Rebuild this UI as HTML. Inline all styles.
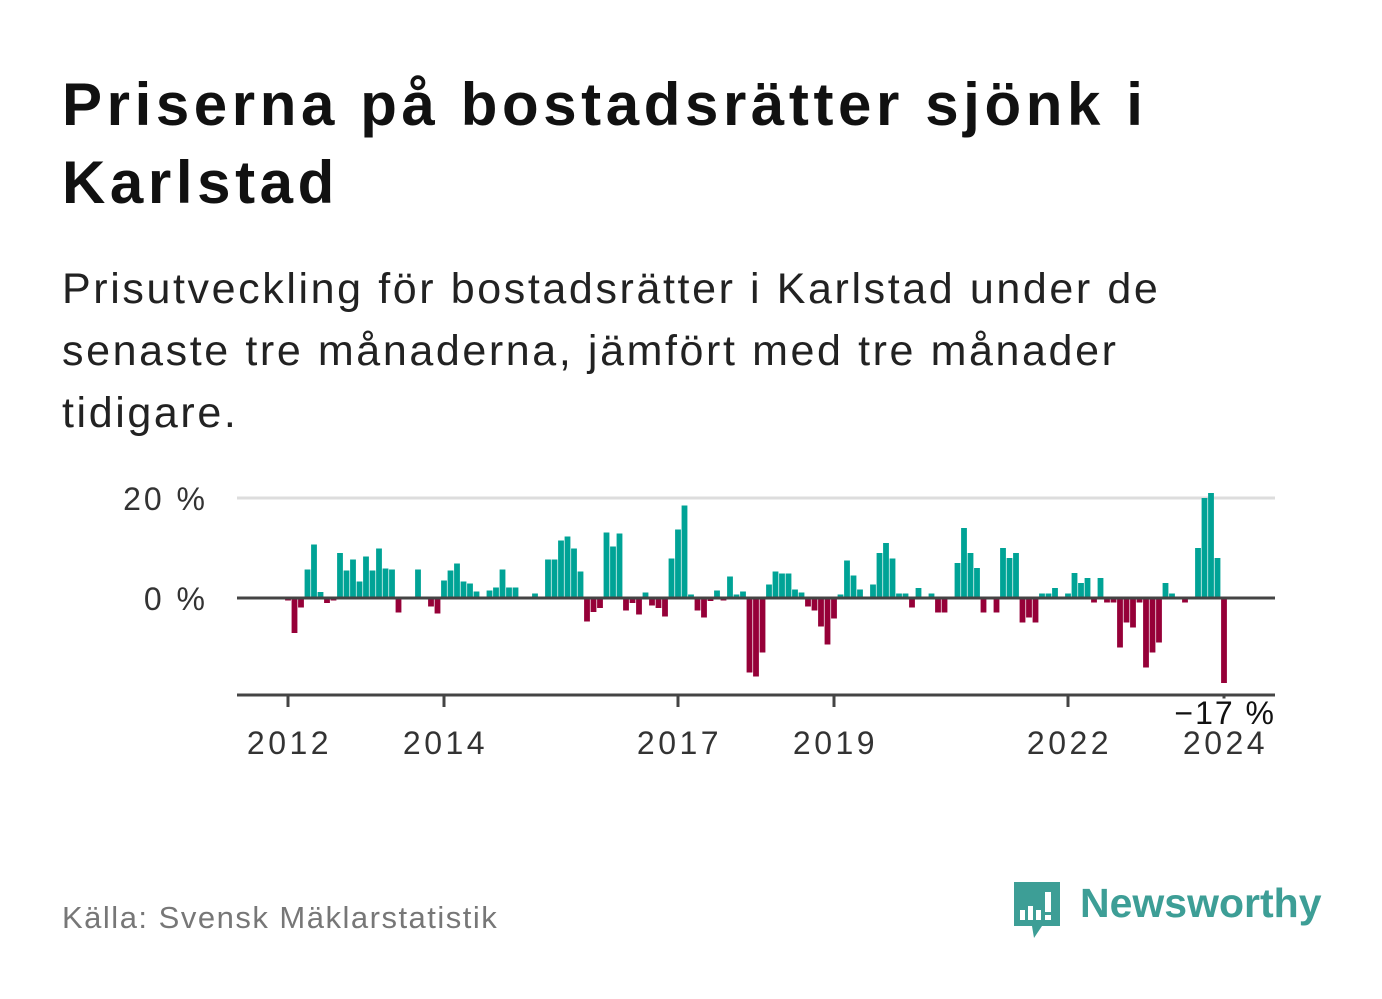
<!DOCTYPE html>
<html><head><meta charset="utf-8"><style>
body{margin:0;width:1382px;height:999px;background:#fff;font-family:"Liberation Sans",sans-serif;overflow:hidden;position:relative}
.t{position:absolute;left:62px;margin:0}
</style></head><body>
<h1 class="t" style="top:66px;font-size:60px;line-height:78px;font-weight:bold;color:#111;letter-spacing:4.6px">Priserna på bostadsrätter sjönk i<br>Karlstad</h1>
<p class="t" style="top:258px;font-size:43px;line-height:62px;color:#222;letter-spacing:2.6px">Prisutveckling för bostadsrätter i Karlstad under de<br>senaste tre månaderna, jämfört med tre månader<br>tidigare.</p>
<svg id="chart" width="1382" height="800" style="position:absolute;left:0;top:0" font-family="Liberation Sans, sans-serif"></svg>
<div style="position:absolute;left:62px;top:900px;font-size:31px;color:#777;letter-spacing:1.5px">Källa: Svensk Mäklarstatistik</div>
<div style="position:absolute;left:1012px;top:880px;width:310px;height:60px">
<svg width="50" height="60" style="position:absolute;left:0;top:0"><path d="M2 2H48V46H30L22 58L20 46H2Z" fill="#3d9e96"/><rect x="8" y="30" width="5" height="10" fill="#fff"/><rect x="16" y="26" width="5" height="14" fill="#fff"/><rect x="24" y="30" width="5" height="10" fill="#fff"/><rect x="33" y="12" width="6" height="20" fill="#fff"/><rect x="33" y="35" width="6" height="5" fill="#fff"/></svg>
<span style="position:absolute;left:68px;top:0px;font-size:41px;font-weight:bold;color:#3d9e96">Newsworthy</span></div>
<script>
const values=[-0.5,-7,-1.9,5.7,10.7,1.2,-1,-0.5,9,5.5,7.7,3.3,8.3,5.5,9.9,5.9,5.7,-2.9,0,0,5.7,0,-1.7,-3.1,3.5,5.5,6.9,3.3,2.9,1.3,0,1.5,2.1,5.7,2.1,2.1,0,0,0.9,0,7.7,7.7,11.5,12.3,9.9,5.3,-4.7,-2.8,-2,13.1,10.3,12.9,-2.5,-1,-3.3,1.1,-1.5,-2,-3.7,7.9,13.7,18.5,0.7,-2.5,-3.9,-0.6,1.5,-0.5,4.3,0.7,1.3,-14.9,-15.7,-10.9,2.7,5.3,4.9,4.9,1.7,1.1,-1.7,-2.5,-5.7,-9.3,-4.1,0.7,7.5,4.5,1.7,0,2.7,9,11,7.9,0.9,0.9,-1.9,2,0,0.9,-2.9,-2.9,0,7,14,9,6,-2.9,0,-2.9,10,8,9,-4.9,-3.9,-4.9,0.9,0.9,2,0,0.9,5,3,4,-0.9,4,-0.9,-0.9,-9.9,-4.9,-5.9,-0.9,-13.9,-10.9,-8.9,3,0.9,0,-0.9,0,10,20,21,8,-17];
const yTicks=[0,20];
const yTickLabels=["0 %","20 %"];
const xYears=[2012,2014,2017,2019,2022,2024];
const startYear=2012;
const NS="http://www.w3.org/2000/svg";
const svg=document.getElementById('chart');
const xs=i=>288+6.5*i;
const xYear=y=>288+(y-startYear)*12*6.5;
const ys=v=>598-5*v;
function mk(t,a){const e=document.createElementNS(NS,t);for(const k in a)e.setAttribute(k,a[k]);svg.appendChild(e);return e;}
yTicks.forEach((v,k)=>{
 if(v!==0){const g=mk('line',{x1:237,x2:1275,y1:ys(v),y2:ys(v),stroke:'#ddd','stroke-width':3});
 
 }
 const t=mk('text',{x:208,y:ys(v)+12,'text-anchor':'end','font-size':32,fill:'#333','letter-spacing':3});
 t.textContent=yTickLabels[k];
 
 
});
values.forEach((v,i)=>{
 const r=mk('rect',{x:xs(i)-2.9,width:5.8,y:v>=0?ys(v):ys(0),height:Math.abs(ys(v)-ys(0)),fill:v>=0?'#00a396':'#960038'});
 
 
});
const z=mk('line',{x1:237,x2:1275,y1:ys(0),y2:ys(0),stroke:'#444','stroke-width':3});


const ax=mk('line',{x1:237,x2:1275,y1:695,y2:695,stroke:'#444','stroke-width':3});


xYears.forEach(y=>{
 const tk=mk('line',{x1:xYear(y),x2:xYear(y),y1:695,y2:707,stroke:'#444','stroke-width':3});
 
 
 const t=mk('text',{x:xYear(y)+1.5,y:754,'text-anchor':'middle','font-size':32,fill:'#333','letter-spacing':3.5});
 t.textContent=y;
 
 
});
const last=values[values.length-1];
const lb=mk('text',{x:1276,y:724,'text-anchor':'end','font-size':32,fill:'#111',stroke:'#fff','stroke-width':6,'paint-order':'stroke','letter-spacing':2});
lb.textContent='\u2212'+Math.abs(Math.round(last))+' %';


</script>
</body></html>
